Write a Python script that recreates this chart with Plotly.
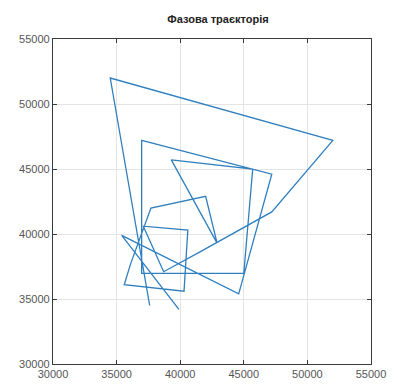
import plotly.graph_objects as go

# Time series; the phase trajectory plots each value against the next one.
series = [37600, 34500, 52000, 47200, 41700, 38700, 37100, 40600, 40300,
          35600, 36100, 37700, 42000, 42900, 39300, 45700, 45000, 36970,
          36970, 47200, 44600, 35400, 39900, 34200]

x_vals = series[:-1]
y_vals = series[1:]

tick_vals = [30000, 35000, 40000, 45000, 50000, 55000]
tick_text = [str(v) for v in tick_vals]

title_text = "Фазова траєкторія"

fig = go.Figure()
fig.add_trace(go.Scatter(
    x=x_vals, y=y_vals, mode="lines",
    line=dict(color="#2f7fbf", width=1.3),
    hoverinfo="x+y", showlegend=False,
))

axis_common = dict(
    tickvals=tick_vals, ticktext=tick_text,
    showgrid=True, gridcolor="#e4e4e4", gridwidth=1,
    showline=True, linecolor="#3a3a3a", linewidth=1.2, mirror="ticks",
    ticks="inside", ticklen=4, tickcolor="#3a3a3a",
    tickfont=dict(family="Liberation Sans, Arial, sans-serif", size=11, color="#555555"),
    zeroline=False,
)

fig.update_layout(
    width=398, height=392,
    margin=dict(l=53, r=16, t=39, b=23),
    paper_bgcolor="white", plot_bgcolor="white",
    title=dict(
        text="<b>" + title_text + "</b>",
        x=218 / 398, xanchor="center", y=1 - 19 / 392, yanchor="middle",
        font=dict(family="Liberation Sans, Arial, sans-serif", size=11, color="#222222"),
    ),
    xaxis=dict(range=[30000, 55000], **axis_common),
    yaxis=dict(range=[30000, 55000], **axis_common),
)

fig.write_html("out.html")
